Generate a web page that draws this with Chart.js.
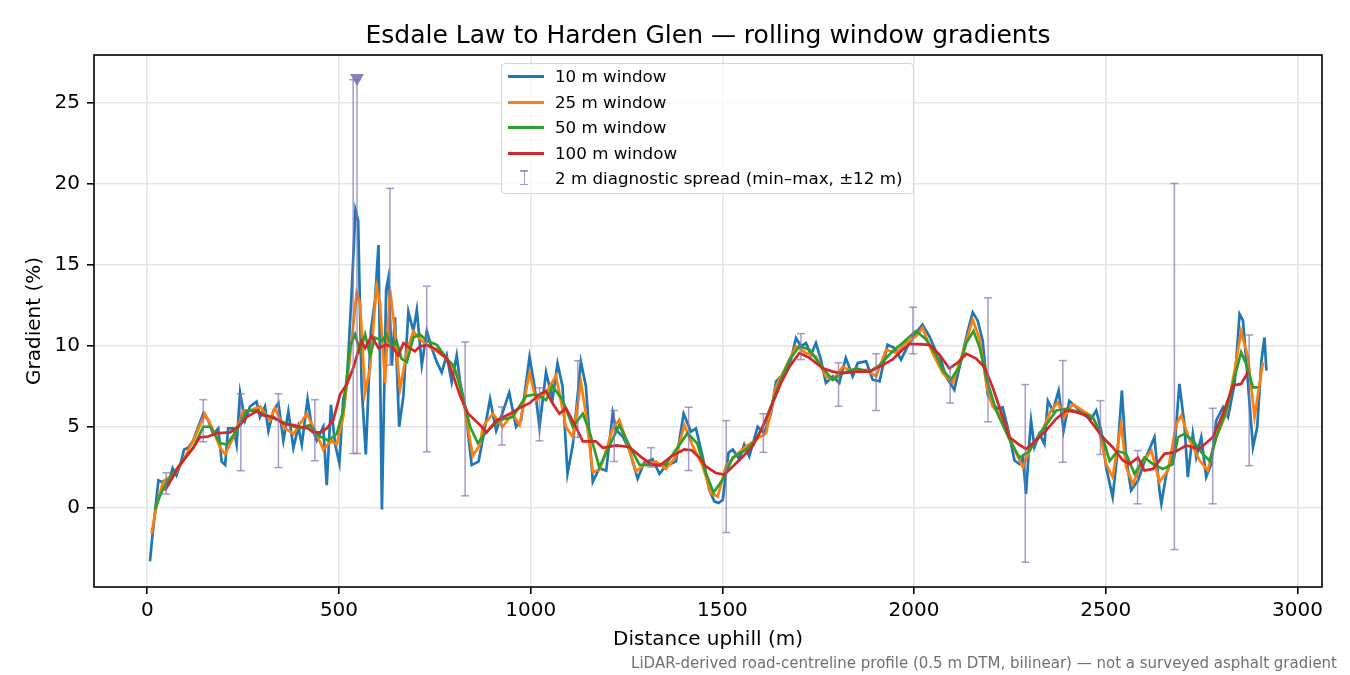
<!DOCTYPE html>
<html>
<head>
<meta charset="utf-8">
<title>Esdale Law to Harden Glen — rolling window gradients</title>
<script src="https://cdn.jsdelivr.net/npm/chart.js@4.4.1/dist/chart.umd.min.js"></script>
<style>
    body { margin: 0; background: #fff; }
    #wrap { position: relative; width: 1350px; height: 675px; font-family: "DejaVu Sans", sans-serif; }
    #chart { position: absolute; left: 0; top: 0; }
    #title { position: absolute; left: 94px; width: 1228px; top: 20px; text-align: center; font-size: 25px; line-height: 1.164; color: #000; white-space: nowrap; }
    #note { position: absolute; right: 13px; bottom: 2.5px; font-size: 15px; line-height: 1.164; color: #707070; white-space: nowrap; }
    #legend { position: absolute; left: 501px; top: 63px; width: 413px; height: 131px; box-sizing: border-box;
              border: 1px solid #d4d4d4; border-radius: 4px; background: rgba(255,255,255,0.8); }
    .row { position: absolute; left: 0; height: 24px; width: 100%; }
    .row .line { position: absolute; left: 6px; top: 11px; width: 36px; height: 2.7px; }
    .row .txt { position: absolute; left: 53px; top: 0; font-size: 16.7px; line-height: 24px; color: #000; white-space: nowrap; }
    .row .stem { position: absolute; left: 21.5px; top: 4px; width: 1.5px; height: 15px; }
    .row .cap { position: absolute; left: 18px; width: 8px; height: 1.5px; }
</style>
</head>
<body>
<div id="wrap">
    <canvas id="chart" width="1350" height="675"></canvas>
    <div id="title">Esdale Law to Harden Glen — rolling window gradients</div>
    <div id="legend"></div>
    <div id="note">LiDAR-derived road-centreline profile (0.5 m DTM, bilinear) — not a surveyed asphalt gradient</div>
</div>
<script>
// Distances (m) et pentes (%), par fenêtre glissante
const dist10 = [7, 13, 20, 29, 37, 46, 55, 66, 76, 87, 96, 107, 120, 133, 146, 159, 172, 185, 194, 203,
    211, 225, 233, 242, 255, 268, 285, 294, 307, 316, 329, 342, 355, 368, 381, 394, 403, 418, 429, 442,
    459, 468, 479, 490, 501, 511, 520, 533, 543, 550, 559, 570, 583, 594, 603, 612, 623, 629, 638, 646,
    657, 668, 681, 694, 703, 716, 729, 742, 755, 768, 781, 794, 807, 816, 829, 846, 864, 881, 894, 910,
    923, 944, 962, 975, 997, 1010, 1023, 1040, 1057, 1070, 1083, 1096, 1110, 1131, 1144, 1162, 1179, 1197, 1214, 1223,
    1240, 1257, 1279, 1296, 1318, 1336, 1353, 1379, 1399, 1418, 1431, 1449, 1466, 1479, 1490, 1501, 1516, 1527, 1544, 1557,
    1570, 1592, 1609, 1627, 1640, 1662, 1679, 1692, 1705, 1718, 1731, 1744, 1757, 1770, 1788, 1805, 1822, 1840, 1853, 1875,
    1892, 1910, 1931, 1949, 1966, 1983, 2001, 2022, 2040, 2057, 2066, 2083, 2105, 2123, 2140, 2153, 2166, 2179, 2192, 2205,
    2218, 2231, 2244, 2253, 2262, 2275, 2284, 2292, 2301, 2305, 2314, 2327, 2340, 2349, 2362, 2377, 2390, 2405, 2423, 2445,
    2462, 2475, 2488, 2501, 2518, 2531, 2542, 2553, 2566, 2584, 2605, 2627, 2640, 2645, 2658, 2679, 2692, 2705, 2714, 2727,
    2736, 2749, 2762, 2775, 2788, 2806, 2819, 2836, 2849, 2858, 2871, 2884, 2895, 2906, 2914, 2919];
const grad10 = [-3.3, -1.8, -0.3, 1.7, 1.6, 1.7, 1.5, 2.45, 2.0, 2.75, 3.6, 3.7, 4.15, 5.0, 5.8, 5.4, 4.55, 4.9, 2.85, 2.65,
    4.9, 4.9, 3.9, 7.1, 5.4, 6.25, 6.55, 5.6, 6.25, 4.75, 6.0, 6.45, 4.15, 5.95, 3.7, 5.0, 3.9, 6.7, 5.0, 4.15,
    5.0, 1.4, 6.35, 3.9, 2.75, 6.7, 7.5, 13.25, 18.35, 17.7, 7.5, 3.3, 10.9, 12.8, 16.2, -0.1, 13.45, 14.2, 8.8, 11.75,
    5.0, 6.9, 12.1, 10.9, 12.2, 8.8, 10.9, 9.85, 9.0, 8.35, 9.4, 7.75, 9.4, 7.75, 6.25, 2.65, 2.85, 5.0, 6.7, 4.75,
    5.6, 7.1, 5.0, 5.4, 9.3, 7.5, 5.0, 8.35, 6.7, 8.9, 7.5, 2.1, 3.9, 9.0, 7.5, 1.6, 2.45, 2.3, 5.84, 4.8,
    4.4, 3.58, 1.8, 2.8, 3.0, 2.1, 2.6, 2.86, 5.8, 4.7, 4.9, 3.1, 1.1, 0.4, 0.3, 0.5, 3.4, 3.6, 3.0, 3.9,
    3.17, 5.0, 4.6, 5.84, 7.8, 8.3, 9.14, 10.47, 9.96, 10.16, 9.44, 10.16, 9.14, 7.7, 8.1, 7.7, 9.24, 8.1, 8.93, 9.03,
    7.9, 7.8, 10.06, 9.86, 9.14, 9.96, 10.68, 11.3, 10.58, 9.65, 9.44, 8.1, 7.28, 9.14, 10.9, 12.05, 11.54, 10.3, 7.0, 6.4,
    6.1, 6.2, 4.97, 3.94, 2.92, 2.7, 3.1, 0.86, 4.15, 5.38, 3.74, 4.56, 3.94, 6.6, 6.0, 7.23, 4.76, 6.6, 6.2, 5.7,
    5.5, 6.0, 4.76, 2.5, 0.66, 3.53, 7.23, 3.12, 1.07, 1.68, 3.12, 4.35, 1.07, 0.25, 2.1, 3.53, 7.64, 5.17, 1.9, 4.56,
    3.12, 4.35, 1.9, 2.7, 5.38, 6.2, 5.6, 7.64, 11.95, 11.54, 7.64, 3.74, 4.97, 9.07, 10.5, 8.46];

const dist25 = [11, 24, 41, 76, 102, 128, 150, 168, 190, 203, 225, 251, 268, 294, 320, 333, 355, 381, 416, 438,
    459, 481, 494, 511, 529, 546, 555, 568, 581, 598, 607, 620, 633, 646, 659, 677, 694, 707, 729, 755,
    781, 807, 824, 849, 868, 875, 901, 927, 953, 971, 997, 1014, 1040, 1066, 1092, 1110, 1131, 1144, 1162, 1179,
    1188, 1214, 1231, 1249, 1275, 1301, 1327, 1353, 1379, 1401, 1423, 1449, 1470, 1488, 1509, 1536, 1562, 1588, 1614, 1640,
    1666, 1692, 1718, 1744, 1770, 1788, 1814, 1840, 1875, 1901, 1927, 1953, 1979, 2005, 2022, 2048, 2075, 2101, 2127, 2153,
    2171, 2190, 2205, 2223, 2240, 2253, 2266, 2284, 2305, 2331, 2357, 2375, 2392, 2414, 2440, 2466, 2483, 2501, 2518, 2540,
    2553, 2571, 2592, 2619, 2640, 2662, 2684, 2697, 2719, 2745, 2766, 2788, 2814, 2836, 2853, 2871, 2888, 2901, 2910];
const grad25 = [-1.6, 0.1, 1.6, 2.2, 3.3, 4.55, 5.8, 5.0, 3.7, 3.3, 4.35, 6.0, 6.0, 6.25, 5.4, 6.15, 5.0, 4.55, 5.8, 4.75,
    3.6, 4.15, 3.9, 5.6, 9.4, 13.25, 12.6, 7.1, 8.6, 13.65, 12.6, 7.7, 13.45, 10.9, 7.3, 9.65, 10.9, 10.5, 10.05, 9.65,
    9.2, 8.35, 6.65, 3.2, 3.9, 5.0, 5.8, 5.0, 5.8, 5.1, 8.35, 6.65, 7.1, 8.15, 5.0, 4.35, 7.75, 5.8, 2.2, 2.35,
    2.85, 4.9, 5.43, 4.2, 2.25, 2.75, 2.85, 2.4, 3.17, 5.1, 3.8, 2.55, 0.9, 0.7, 2.55, 3.27, 3.8, 4.2, 4.6, 7.5,
    8.7, 9.96, 9.55, 9.34, 8.1, 7.9, 8.7, 8.4, 8.5, 8.1, 9.75, 9.55, 10.16, 10.58, 11.1, 9.55, 8.3, 7.7, 9.55, 11.6,
    10.4, 7.4, 6.25, 5.8, 5.0, 4.15, 3.37, 2.5, 3.74, 4.56, 6.0, 6.5, 5.6, 6.4, 6.0, 5.6, 4.76, 2.7, 1.9, 5.17,
    2.5, 1.48, 2.7, 3.53, 1.6, 2.3, 5.17, 5.7, 4.15, 2.92, 2.3, 4.35, 5.8, 8.46, 10.9, 9.28, 5.6, 7.64, 8.97];

const dist50 = [20, 33, 50, 85, 120, 146, 164, 190, 207, 233, 259, 285, 311, 342, 372, 398, 424, 446, 472, 494,
    511, 529, 542, 555, 568, 581, 594, 612, 624, 638, 650, 663, 677, 694, 711, 729, 755, 781, 798, 816,
    842, 862, 885, 918, 953, 988, 1014, 1040, 1057, 1083, 1110, 1136, 1153, 1179, 1205, 1231, 1257, 1284, 1318, 1353,
    1384, 1409, 1435, 1457, 1477, 1501, 1527, 1562, 1588, 1614, 1649, 1675, 1701, 1727, 1762, 1788, 1814, 1849, 1884, 1910,
    1944, 1970, 2005, 2031, 2057, 2075, 2096, 2118, 2136, 2155, 2171, 2188, 2214, 2249, 2275, 2301, 2327, 2353, 2371, 2397,
    2431, 2466, 2492, 2510, 2531, 2553, 2575, 2601, 2623, 2649, 2675, 2688, 2705, 2727, 2753, 2771, 2788, 2814, 2836, 2853,
    2866, 2884, 2897];
const grad50 = [-0.1, 0.74, 1.6, 2.65, 3.7, 5.0, 5.0, 4.0, 3.9, 4.75, 6.0, 6.0, 5.7, 5.4, 5.1, 4.9, 5.1, 4.45, 4.15, 4.55,
    6.0, 9.95, 10.7, 9.65, 10.7, 9.4, 10.5, 10.3, 10.7, 9.85, 10.3, 9.2, 9.0, 10.5, 10.7, 10.3, 10.05, 9.2, 8.8, 7.5,
    5.0, 4.0, 4.7, 5.4, 5.6, 6.9, 7.0, 6.65, 7.5, 6.65, 5.0, 5.8, 4.75, 2.5, 3.8, 5.1, 3.85, 2.65, 2.65, 2.7,
    3.75, 4.6, 3.95, 2.15, 0.95, 1.75, 3.1, 3.58, 4.2, 5.43, 7.7, 9.14, 9.96, 9.75, 8.6, 7.9, 8.3, 8.6, 8.4, 8.8,
    9.65, 10.16, 10.9, 10.4, 9.45, 8.5, 7.9, 8.7, 10.16, 10.9, 9.9, 8.05, 6.0, 4.2, 3.1, 3.5, 4.55, 5.4, 6.0, 6.1,
    5.9, 5.6, 4.35, 2.9, 3.5, 3.33, 2.1, 3.1, 2.7, 2.4, 2.7, 4.35, 4.56, 4.15, 3.33, 2.9, 4.35, 6.0, 8.05, 9.6,
    8.87, 7.43, 7.43];

const dist100 = [46, 85, 120, 137, 159, 181, 216, 242, 259, 285, 303, 329, 355, 381, 398, 420, 433, 451, 468, 485,
    503, 520, 537, 550, 559, 568, 585, 603, 624, 642, 655, 668, 685, 698, 711, 729, 755, 781, 798, 816,
    837, 868, 885, 911, 946, 970, 997, 1023, 1040, 1057, 1075, 1092, 1118, 1136, 1170, 1188, 1223, 1257, 1290, 1318,
    1336, 1365, 1400, 1420, 1440, 1457, 1483, 1505, 1527, 1553, 1579, 1605, 1631, 1653, 1675, 1701, 1727, 1762, 1788, 1814,
    1849, 1884, 1918, 1944, 1970, 1988, 2014, 2040, 2066, 2092, 2114, 2136, 2162, 2184, 2205, 2231, 2249, 2271, 2292, 2318,
    2344, 2371, 2397, 2423, 2449, 2466, 2492, 2518, 2545, 2562, 2584, 2601, 2623, 2653, 2679, 2710, 2744, 2779, 2806, 2832,
    2853, 2871];
const grad100 = [1.06, 2.65, 3.7, 4.35, 4.4, 4.6, 4.65, 5.1, 5.6, 5.95, 5.7, 5.6, 5.2, 5.1, 5.0, 4.9, 4.65, 4.65, 4.9, 5.4,
    7.0, 7.6, 8.6, 9.65, 10.3, 9.85, 10.6, 9.85, 10.05, 9.85, 9.4, 10.15, 9.85, 9.65, 9.95, 10.05, 9.75, 9.2, 8.15, 6.9,
    5.8, 5.1, 4.65, 5.4, 5.8, 6.15, 6.45, 7.0, 7.2, 6.45, 5.8, 6.15, 5.0, 4.1, 4.1, 3.7, 3.85, 3.75, 3.1, 2.65,
    2.6, 3.15, 3.6, 3.55, 3.1, 2.55, 2.15, 2.05, 2.55, 3.15, 3.8, 5.0, 6.45, 7.7, 8.7, 9.55, 9.25, 8.6, 8.4, 8.3,
    8.4, 8.4, 8.8, 9.15, 9.75, 10.1, 10.1, 10.05, 9.45, 8.6, 8.95, 9.5, 9.2, 8.67, 7.43, 5.6, 4.35, 3.95, 3.63, 4.15,
    4.76, 5.5, 6.0, 5.9, 5.7, 5.17, 4.35, 3.74, 2.92, 2.7, 3.1, 2.3, 2.4, 3.33, 3.43, 3.84, 3.63, 4.35, 5.8, 7.55,
    7.64, 8.36];

// Dispersion diagnostique 2 m (min–max, ±12 m)
const spreadDist = [49, 146, 244, 342, 437, 537, 547, 633, 729, 829, 925, 1023, 1123, 1218, 1314, 1412, 1510, 1607, 1705, 1803,
    1901, 1997, 2094, 2193, 2290, 2388, 2486, 2583, 2679, 2779, 2874];
const spreadMin = [0.85, 4.07, 2.29, 2.48, 2.9, 3.35, 3.35, 8.8, 3.45, 0.74, 3.88, 4.13, 4.34, 2.86, 2.52, 2.3, -1.52, 3.42, 9.14, 6.26,
    6.0, 9.5, 6.46, 5.3, -3.35, 2.81, 3.29, 0.25, -2.57, 0.25, 2.6];
const spreadMax = [2.16, 6.67, 7.03, 7.03, 6.67, 26.4, 26.4, 19.7, 13.67, 10.23, 6.22, 7.4, 9.07, 6.0, 3.71, 6.2, 5.38, 5.8, 10.74, 8.95,
    9.5, 12.37, 8.7, 12.95, 7.6, 9.08, 6.61, 3.53, 20.0, 6.14, 10.66];

// Valeur hors échelle (marqueur triangle)
const clipDist = [547];
const clipGrad = [26.5];

// Graduations
const xTicks = [0, 500, 1000, 1500, 2000, 2500, 3000];
const yTicks = [0, 5, 10, 15, 20, 25];

const seriesLabels = ['10 m window', '25 m window', '50 m window', '100 m window'];
const seriesColors = ['#1f77b4', '#ff7f0e', '#2ca02c', '#d62728'];
const spreadLabel = '2 m diagnostic spread (min–max, ±12 m)';
const spreadColor = 'rgba(129, 114, 179, 0.7)';
const clipColor = 'rgba(129, 114, 179, 0.9)';

function toPoints(xs, ys) {
    return xs.map((x, i) => ({ x: x, y: ys[i] }));
}

// Barres d'erreur : segments séparés par des valeurs nulles
function spreadPoints() {
    const pts = [];
    spreadDist.forEach((x, i) => {
        pts.push({ x: x, y: spreadMin[i] });
        pts.push({ x: x, y: spreadMax[i] });
        pts.push({ x: x, y: null });
    });
    return pts;
}

// Cadre complet autour de la zone de tracé
const frame = {
    id: 'frame',
    afterDraw(chart) {
        const a = chart.chartArea, ctx = chart.ctx;
        ctx.save();
        ctx.strokeStyle = '#000';
        ctx.lineWidth = 1.6;
        ctx.strokeRect(a.left, a.top, a.right - a.left, a.bottom - a.top);
        ctx.restore();
    }
};

function buildLegend() {
    const box = document.getElementById('legend');
    const rowTops = [0, 26, 51, 77, 102];
    let html = '';
    seriesLabels.forEach((label, i) => {
        html += `<div class="row" style="top:${rowTops[i]}px"><span class="line" style="background:${seriesColors[i]}"></span><span class="txt">${label}</span></div>`;
    });
    html += `<div class="row" style="top:${rowTops[4]}px">
        <span class="stem" style="background:${spreadColor}"></span>
        <span class="cap" style="top:4px;background:${spreadColor}"></span>
        <span class="cap" style="top:17.5px;background:${spreadColor}"></span>
        <span class="txt">${spreadLabel}</span></div>`;
    box.innerHTML = html;
}

function initChart() {
    const ctx = document.getElementById('chart').getContext('2d');
    const lineSet = (i, xs, ys, order) => ({
        label: seriesLabels[i],
        data: toPoints(xs, ys),
        showLine: true,
        borderColor: seriesColors[i],
        backgroundColor: seriesColors[i],
        borderWidth: 2.7,
        pointRadius: 0,
        tension: 0,
        order: order
    });
    const tickFont = { family: 'DejaVu Sans', size: 20 };

    new Chart(ctx, {
        type: 'scatter',
        data: {
            datasets: [
                lineSet(0, dist10, grad10, 5),
                lineSet(1, dist25, grad25, 4),
                lineSet(2, dist50, grad50, 3),
                lineSet(3, dist100, grad100, 2),
                {
                    label: spreadLabel,
                    data: spreadPoints(),
                    showLine: true,
                    spanGaps: false,
                    borderColor: spreadColor,
                    borderWidth: 1.5,
                    pointStyle: 'line',
                    pointRadius: 4,
                    pointBorderWidth: 1.5,
                    pointBorderColor: spreadColor,
                    order: 1
                },
                {
                    label: 'clipped',
                    data: toPoints(clipDist, clipGrad),
                    pointStyle: 'triangle',
                    rotation: 180,
                    pointRadius: 8,
                    backgroundColor: clipColor,
                    borderColor: clipColor,
                    borderWidth: 0,
                    order: 0
                }
            ]
        },
        options: {
            responsive: false,
            animation: false,
            devicePixelRatio: 1,
            events: [],
            layout: { autoPadding: false, padding: { left: 0, right: 28, top: 55, bottom: 0 } },
            plugins: {
                legend: { display: false },
                title: { display: false },
                tooltip: { enabled: false }
            },
            scales: {
                x: {
                    type: 'linear',
                    min: -139,
                    max: 3064,
                    afterFit: s => { s.height = 88; },
                    afterBuildTicks: s => { s.ticks = xTicks.map(v => ({ value: v })); },
                    grid: { color: '#e6e6e6', lineWidth: 1.6, tickColor: '#000', tickWidth: 1.6, tickLength: 7 },
                    border: { display: false },
                    ticks: { color: '#000', padding: 5, maxRotation: 0, autoSkip: false, font: tickFont,
                             callback: v => String(v) },
                    title: { display: true, text: 'Distance uphill (m)', color: '#000', font: tickFont,
                             padding: { top: 0, bottom: 23.6 } }
                },
                y: {
                    type: 'linear',
                    min: -4.88,
                    max: 27.92,
                    afterFit: s => { s.width = 94; },
                    afterBuildTicks: s => { s.ticks = yTicks.map(v => ({ value: v })); },
                    grid: { color: '#e6e6e6', lineWidth: 1.6, tickColor: '#000', tickWidth: 1.6, tickLength: 7 },
                    border: { display: false },
                    ticks: { color: '#000', padding: 7, font: tickFont, callback: v => String(v) },
                    title: { display: true, text: 'Gradient (%)', color: '#000', font: tickFont,
                             padding: { top: 23, bottom: 0 } }
                }
            }
        },
        plugins: [frame]
    });
}

document.addEventListener('DOMContentLoaded', () => {
    buildLegend();
    initChart();
});
</script>
</body>
</html>
